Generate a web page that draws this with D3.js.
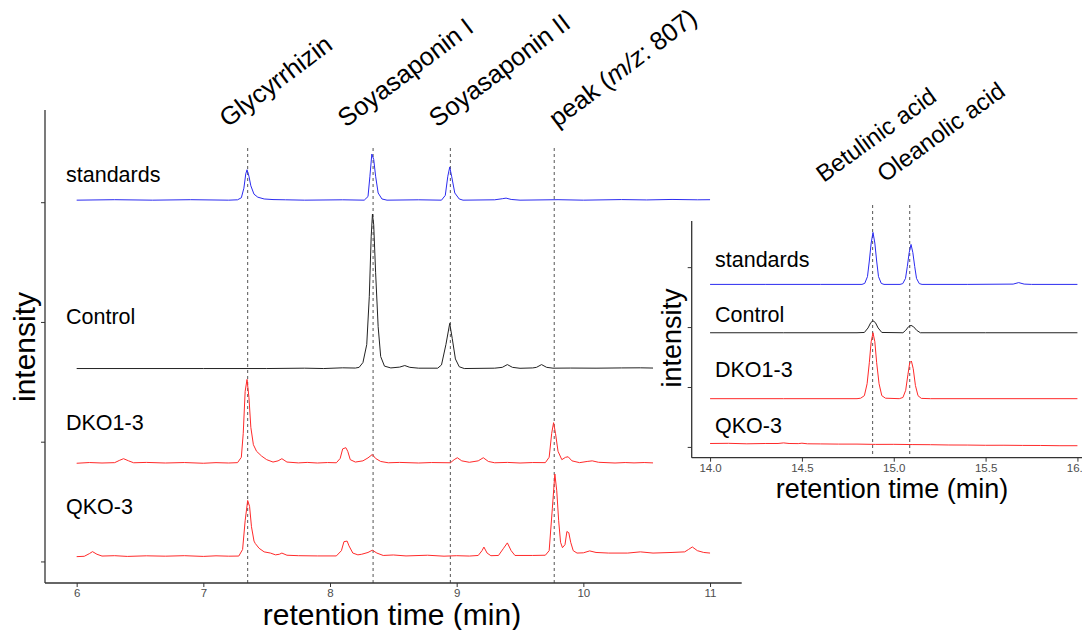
<!DOCTYPE html>
<html>
<head>
<meta charset="utf-8">
<script src="https://cdn.jsdelivr.net/npm/d3@7"></script>
<style>
  body { margin: 0; background: #fff; }
  text { font-family: 'Liberation Sans', Arial, sans-serif; }
  .tick text { fill: #4d4d4d; font-size: 11.5px; }
  .tick line, .domain { stroke: #333; }
</style>
</head>
<body>
<svg width="1082" height="630"></svg>
<script>
// ---- data ----
const sampleNames = ['standards', 'Control', 'DKO1-3', 'QKO-3'];

// left panel (saponins), retention time in min, intensity in arbitrary units
const leftTicks = [6, 7, 8, 9, 10, 11];
const leftOffsets = [3.017, 1.611, 0.82, 0.04];
const leftMarkers = [7.35, 8.34, 8.95, 9.77];
const leftMarkerNames = ['Glycyrrhizin', 'Soyasaponin I', 'Soyasaponin II', 'peak'];

const leftStandards = [
  [6.0, 0], [6.3, 0.004], [6.6, 0], [6.9, 0.004], [7.2, 0], [7.27, 0.003], [7.3, 0.02], [7.32, 0.1],
  [7.335, 0.22], [7.345, 0.254], [7.36, 0.2], [7.375, 0.12], [7.4, 0.05], [7.43, 0.025], [7.48, 0.01],
  [7.55, 0.005], [7.65, 0.003], [7.8, 0], [8.1, 0.003], [8.27, 0], [8.3, 0.03], [8.315, 0.2],
  [8.33, 0.385], [8.345, 0.34], [8.36, 0.2], [8.38, 0.06], [8.41, 0.01], [8.45, 0], [8.7, 0.003],
  [8.88, 0], [8.91, 0.04], [8.93, 0.2], [8.945, 0.276], [8.96, 0.2], [8.985, 0.06], [9.02, 0.01],
  [9.05, 0], [9.3, 0.003], [9.36, 0.012], [9.39, 0.017], [9.43, 0.006], [9.5, 0], [9.8, 0.004],
  [10.0, 0], [10.3, 0.005], [10.5, 0.002], [10.7, 0.006], [10.9, 0.003], [11.0, 0.004]
];
const leftControl = [
  [6.0, 0], [6.5, 0], [7.0, 0], [7.5, 0], [7.8, 0.003], [7.95, 0], [8.1, 0.006], [8.2, 0.004],
  [8.23, 0.01], [8.26, 0.05], [8.29, 0.2], [8.31, 0.6], [8.325, 1.1], [8.335, 1.29], [8.345, 1.2],
  [8.36, 0.8], [8.38, 0.35], [8.4, 0.1], [8.43, 0.02], [8.48, 0.005], [8.55, 0.012], [8.59, 0.025],
  [8.63, 0.01], [8.7, 0.003], [8.85, 0.003], [8.88, 0.03], [8.915, 0.2], [8.945, 0.377], [8.965, 0.25],
  [8.99, 0.08], [9.02, 0.015], [9.06, 0], [9.3, 0.003], [9.36, 0.01], [9.4, 0.033], [9.44, 0.01],
  [9.5, 0.002], [9.6, 0.005], [9.63, 0.01], [9.67, 0.033], [9.71, 0.01], [9.76, 0.003], [9.9, 0.004],
  [10.1, 0.003], [10.3, 0.005], [10.45, 0.006], [10.55, 0.004]
];
const leftDKO = [
  [6.0, 0], [6.1, 0.006], [6.2, 0.002], [6.3, 0.005], [6.34, 0.025], [6.37, 0.038], [6.41, 0.02],
  [6.45, 0.004], [6.55, 0.007], [6.7, 0.002], [6.85, 0.006], [7.0, 0], [7.1, 0.005], [7.2, 0.002],
  [7.27, 0.005], [7.3, 0.05], [7.315, 0.25], [7.33, 0.6],
  [7.345, 0.7], [7.36, 0.55], [7.375, 0.3], [7.395, 0.155], [7.42, 0.1], [7.46, 0.06], [7.5, 0.03],
  [7.55, 0.01], [7.59, 0.02], [7.62, 0.038], [7.66, 0.01], [7.75, 0.003], [7.82, 0.007], [7.9, 0.002],
  [7.98, 0.006], [8.05, 0.004],
  [8.08, 0.04], [8.1, 0.12], [8.125, 0.13], [8.14, 0.1], [8.16, 0.03], [8.2, 0.01], [8.26, 0.02],
  [8.3, 0.045], [8.334, 0.073], [8.36, 0.04], [8.4, 0.015], [8.46, 0.004], [8.55, 0.007], [8.7, 0.002],
  [8.8, 0.006], [8.95, 0.004],
  [8.98, 0.03], [9.005, 0.046], [9.04, 0.02], [9.1, 0.008], [9.17, 0.02], [9.21, 0.046], [9.25, 0.015],
  [9.3, 0.004], [9.4, 0.007], [9.5, 0.002], [9.6, 0.006], [9.7, 0.005], [9.73, 0.05], [9.75, 0.25],
  [9.765, 0.339], [9.78, 0.25],
  [9.8, 0.1], [9.83, 0.03], [9.86, 0.05], [9.88, 0.054], [9.91, 0.02], [9.97, 0.005], [10.03, 0.015],
  [10.07, 0.02], [10.12, 0.008], [10.25, 0.002], [10.33, 0.006], [10.4, 0.003], [10.48, 0.006],
  [10.55, 0.003]
];
const leftQKO = [
  [6.0, 0], [6.06, 0.003], [6.1, 0.025], [6.125, 0.042], [6.16, 0.02], [6.2, 0.005], [6.3, 0.008],
  [6.4, 0.002], [6.55, 0.007], [6.7, 0.004], [6.85, 0.008], [7.0, 0.002], [7.1, 0.007], [7.2, 0.004],
  [7.28, 0.005], [7.31, 0.06], [7.33, 0.3], [7.35, 0.469],
  [7.365, 0.42], [7.38, 0.25], [7.4, 0.13], [7.41, 0.11], [7.44, 0.07], [7.48, 0.04], [7.53, 0.03],
  [7.57, 0.015], [7.6, 0.02], [7.62, 0.03], [7.66, 0.012], [7.75, 0.008], [7.9, 0.006], [8.05, 0.006],
  [8.09, 0.05], [8.11, 0.125], [8.135, 0.13], [8.15, 0.09], [8.18, 0.03], [8.22, 0.015], [8.25, 0.02],
  [8.3, 0.035], [8.334, 0.054], [8.37, 0.03], [8.42, 0.01], [8.5, 0.014], [8.6, 0.006], [8.77, 0.012],
  [8.9, 0.004], [9.0, 0.008],
  [9.1, 0.005], [9.17, 0.01], [9.2, 0.05], [9.215, 0.08], [9.24, 0.03], [9.27, 0.008], [9.33, 0.01],
  [9.37, 0.07], [9.4, 0.115], [9.43, 0.05], [9.46, 0.01], [9.6, 0.01], [9.7, 0.012], [9.73, 0.05],
  [9.755, 0.4], [9.775, 0.69], [9.79, 0.55], [9.805, 0.3], [9.82, 0.12], [9.835, 0.075], [9.855, 0.1],
  [9.87, 0.21], [9.885, 0.2], [9.9, 0.12], [9.92, 0.05], [9.95, 0.03], [10.0, 0.032], [10.05, 0.048],
  [10.1, 0.035], [10.2, 0.03], [10.35, 0.03], [10.45, 0.04], [10.55, 0.03], [10.7, 0.035], [10.8, 0.04],
  [10.83, 0.06], [10.86, 0.081], [10.9, 0.05], [10.95, 0.035], [11.0, 0.03]
];

// right panel (triterpenoid acids)
const rightTicks = [14.0, 14.5, 15.0, 15.5, 16.0];
const rightOffsets = [2.712, 1.905, 0.805, 0.017];
const rightMarkers = [14.885, 15.087];
const rightMarkerNames = ['Betulinic acid', 'Oleanolic acid'];

const rightStandards = [
  [14.0, 0], [14.3, 0], [14.6, 0], [14.8, 0], [14.827, 0], [14.842, 0.017], [14.857, 0.13],
  [14.867, 0.39], [14.877, 0.69], [14.887, 0.867], [14.897, 0.69], [14.907, 0.39], [14.917, 0.13],
  [14.932, 0.017], [14.947, 0], [15.034, 0], [15.049, 0.013], [15.064, 0.1], [15.074, 0.3],
  [15.084, 0.53], [15.094, 0.667], [15.104, 0.53], [15.114, 0.3], [15.124, 0.1], [15.139, 0.013],
  [15.154, 0], [15.4, 0], [15.65, 0.005], [15.68, 0.03], [15.71, 0.005], [15.75, 0], [16.0, 0]
];
const rightControl = [
  [14.0, 0], [14.4, 0], [14.8, 0], [14.84, 0.005], [14.86, 0.08], [14.875, 0.17], [14.887, 0.2],
  [14.9, 0.17], [14.915, 0.08], [14.935, 0.005], [15.05, 0], [15.065, 0.04], [15.08, 0.1],
  [15.094, 0.123], [15.108, 0.1], [15.125, 0.04], [15.145, 0], [15.5, 0], [16.0, 0]
];
const rightDKO = [
  [14.0, 0], [14.4, 0], [14.8, 0], [14.82, 0.008], [14.84, 0.05], [14.855, 0.25], [14.867, 0.6],
  [14.877, 0.95], [14.887, 1.1], [14.897, 0.95], [14.907, 0.6], [14.92, 0.25], [14.935, 0.05],
  [14.955, 0.008], [15.03, 0], [15.05, 0.02], [15.065, 0.14], [15.077, 0.4], [15.087, 0.6],
  [15.096, 0.628], [15.106, 0.5], [15.118, 0.22], [15.132, 0.05], [15.15, 0.005], [15.2, 0], [16.0, 0]
];
const rightQKO = [
  [14.0, 0.04], [14.1, 0.043], [14.2, 0.035], [14.3, 0.04], [14.37, 0.04], [14.4, 0.05], [14.43, 0.04],
  [14.48, 0.038], [14.5, 0.045], [14.53, 0.035], [14.6, 0.033], [14.7, 0.03], [14.8, 0.03], [14.9, 0.025],
  [15.0, 0.026], [15.1, 0.022], [15.2, 0.02], [15.3, 0.015], [15.4, 0.014], [15.5, 0.01], [15.6, 0.011],
  [15.7, 0.008], [15.8, 0.007], [15.9, 0.003], [16.0, 0.003]
];

// ---- layout & styles ----
const colors = ['#2b2bf0', '#222222', '#ff2a2a', '#ff2a2a'];
const svg = d3.select('svg');

function drawPanel(p) {
  const x = d3.scaleLinear().domain(p.xDomain).range([p.left, p.right]);
  const y = d3.scaleLinear().domain([-0.18, 3.77]).range([p.bottom, p.top]);

  // dashed marker lines
  svg.append('g').selectAll('line')
    .data(p.markers)
    .enter()
    .append('line')
    .attr('x1', d => x(d)).attr('x2', d => x(d))
    .attr('y1', p.markerTop).attr('y2', p.bottom)
    .attr('stroke', '#555').attr('stroke-width', 1)
    .attr('stroke-dasharray', '3,3');

  // traces
  const line = d3.line()
    .x(d => x(d[0]))
    .y(d => y(d[1]));
  p.traces.forEach((tr, i) => {
    svg.append('path')
      .datum(tr.map(d => [d[0], d[1] + p.offsets[i]]))
      .attr('fill', 'none')
      .attr('stroke', colors[i])
      .attr('stroke-width', 1)
      .attr('d', line);
  });

  // sample names
  svg.append('g').selectAll('text')
    .data(sampleNames)
    .enter()
    .append('text')
    .attr('x', p.nameX)
    .attr('y', (d, i) => p.nameY[i])
    .attr('font-size', p.nameSize)
    .text(d => d);

  // axes
  const xAxis = d3.axisBottom(x).tickValues(p.ticks).tickFormat(p.fmt).tickSize(4).tickPadding(2);
  const xg = svg.append('g').attr('transform', `translate(0,${p.bottom})`).call(xAxis);
  xg.select('.domain').attr('d', `M${p.left},0H${p.right}`).attr('stroke-width', 1.3);

  const yAxis = d3.axisLeft(y).tickValues([0, 1, 2, 3]).tickFormat('').tickSize(4);
  const yg = svg.append('g').attr('transform', `translate(${p.left},0)`).call(yAxis);
  yg.select('.domain').attr('d', `M0,${p.top}V${p.bottom}`).attr('stroke-width', 1.3);

  // axis titles
  svg.append('text')
    .attr('x', p.xTitleX).attr('y', p.xTitleY)
    .attr('text-anchor', 'middle')
    .attr('font-size', p.titleSize)
    .text('retention time (min)');
  svg.append('text')
    .attr('transform', `translate(${p.yTitleX},${p.yTitleY}) rotate(-90)`)
    .attr('text-anchor', 'middle')
    .attr('font-size', p.titleSize)
    .text('intensity');

  // compound labels, rotated
  p.markerNames.forEach((name, i) => {
    const t = svg.append('text')
      .attr('transform', `translate(${x(p.markers[i]) + p.labelDx[i]},${p.labelY}) rotate(${p.labelAngle})`)
      .attr('font-size', p.labelSize);
    if (name === 'peak') {
      t.append('tspan').text('peak (');
      t.append('tspan').attr('font-style', 'italic').text('m/z');
      t.append('tspan').text(': 807)');
    } else {
      t.text(name);
    }
  });
}

drawPanel({
  xDomain: [5.75, 11.25], left: 45, right: 741.7,
  top: 110, bottom: 583, markerTop: 148,
  ticks: leftTicks, fmt: d3.format('d'),
  traces: [leftStandards, leftControl, leftDKO, leftQKO], offsets: leftOffsets,
  markers: leftMarkers, markerNames: leftMarkerNames,
  labelDx: [-20, -27, -13, 3], labelY: 128, labelSize: 25.5, labelAngle: -37,
  nameX: 66, nameY: [182, 324, 430, 514], nameSize: 21.5,
  xTitleX: 392, xTitleY: 625, yTitleX: 35, yTitleY: 347, titleSize: 30
});

drawPanel({
  xDomain: [13.9, 16.1], left: 691.7, right: 1095.8,
  top: 221, bottom: 457.7, markerTop: 205,
  ticks: rightTicks, fmt: d3.format('.1f'),
  traces: [rightStandards, rightControl, rightDKO, rightQKO], offsets: rightOffsets,
  markers: rightMarkers, markerNames: rightMarkerNames,
  labelDx: [-49, -25], labelY: 183, labelSize: 24, labelAngle: -36,
  nameX: 715, nameY: [267, 322, 377, 433], nameSize: 21.5,
  xTitleX: 892, xTitleY: 498, yTitleX: 681, yTitleY: 338, titleSize: 27
});
</script>
</body>
</html>
